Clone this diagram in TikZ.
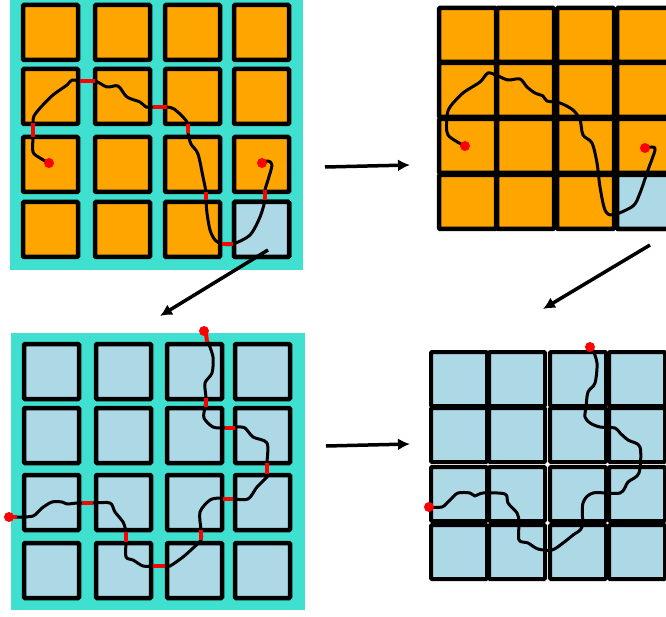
\documentclass[tikz,border=0pt]{standalone}
\usetikzlibrary{arrows.meta}
\definecolor{tileorange}{HTML}{FFA500}
\definecolor{tileblue}{HTML}{ADD8E6}
\definecolor{board}{HTML}{40E0D0}
\begin{document}
\begin{tikzpicture}[x=1pt,y=-1pt,
    tile/.style={draw=black, line width=4.5pt, rounded corners=1pt},
    crack/.style={draw=black, line width=3pt, line join=round, line cap=round},
    cut/.style={draw=red, line width=4pt},
    dot/.style={fill=red},
    move/.style={line width=3.5pt, -{Latex[length=12pt,width=12pt]}}]
  \useasboundingbox (0,0) rectangle (666,617);
  % top left: board with gaps
  \fill[board] (10,0) rectangle (303,270);
  \foreach \x in {23,95,165,234}
    \foreach \y in {5,69,137,202}
      \draw[tile, fill=tileorange] (\x,\y) rectangle ++(55,55);
  \draw[tile, fill=tileblue] (234,202) rectangle ++(55,55);
  \draw[crack] plot[smooth, tension=0.5] coordinates {(49,163) (40,158) (33,152)
    (33,137) (33,123) (34,116) (41,107) (53,95) (67,85) (72,80) (80,81) (95,81)
    (107,87) (118,86) (127,97) (140,102) (146,107) (153,107) (167,107) (174,109)
    (183,117) (188,124) (188,133) (191,144) (198,154) (203,177) (206,192) (206,200)
    (207,213) (210,230) (215,240) (222,244) (233,244) (250,235) (260,217) (265,200)
    (265,190) (268,180) (272,165) (268,161) (262,163)};
  \draw[cut] (33,123) -- (33,137);
  \draw[cut] (80,81) -- (95,81);
  \draw[cut] (153,107) -- (167,107);
  \draw[cut] (188,124) -- (188,133);
  \draw[cut] (206,192) -- (206,200);
  \draw[cut] (222,244) -- (233,244);
  \draw[cut] (265,190) -- (265,200);
  \fill[dot] (49,163) circle (5);
  \fill[dot] (262,163) circle (5);
  % top right: gaps closed
  \foreach \x in {439,497,557,617}
    \foreach \y in {8,63,119,175}
      \draw[tile, fill=tileorange] (\x,\y) rectangle ++(57,54);
  \draw[tile, fill=tileblue] (617,175) rectangle ++(57,54);
  \draw[crack] plot[smooth, tension=0.5] coordinates {(465,146) (448,135) (447,117)
    (450,107) (463,93) (480,82) (488,73) (498,76) (508,80) (520,79) (527,87)
    (535,93) (543,96) (547,101) (560,103) (573,110) (580,120) (583,135) (592,143)
    (597,163) (600,187) (605,210) (613,215) (633,206) (640,193) (648,170)
    (655,150) (652,147) (645,148)};
  \fill[dot] (465,146) circle (5);
  \fill[dot] (645,148) circle (5);
  % bottom left: board with gaps
  \fill[board] (11,333) rectangle (305,610);
  \foreach \x in {24,96,167,235}
    \foreach \y in {344,408,475,543}
      \draw[tile, fill=tileblue] (\x,\y) rectangle ++(55,55);
  \draw[crack] plot[smooth, tension=0.5] coordinates {(17,517) (33,516) (42,508)
    (52,502) (62,502) (67,504) (77,503) (82,503) (93,503) (110,503) (115,512)
    (123,522) (126,532) (126,542) (126,557) (133,560) (143,566) (153,566) (165,566)
    (170,566) (183,557) (192,549) (201,540) (201,530) (200,512) (210,500) (220,498)
    (223,499) (233,499) (248,499) (257,487) (267,477) (267,474) (267,463) (267,443)
    (253,437) (245,428) (237,427) (235,428) (225,428) (213,427) (204,418) (205,407)
    (206,398) (205,383) (212,373) (213,357) (208,342)};
  \draw[cut] (9,517) -- (17,517);
  \draw[cut] (82,503) -- (93,503);
  \draw[cut] (126,532) -- (126,542);
  \draw[cut] (153,566) -- (165,566);
  \draw[cut] (201,530) -- (201,540);
  \draw[cut] (223,499) -- (233,499);
  \draw[cut] (267,463) -- (267,474);
  \draw[cut] (225,428) -- (235,428);
  \draw[cut] (206,398) -- (206,407);
  \draw[cut] (206,333) -- (207,342);
  \fill[dot] (9,517) circle (5);
  \fill[dot] (204,331) circle (5);
  % bottom right: gaps closed
  \foreach \x in {431,489,550,609}
    \foreach \y in {352,408,467,525}
      \draw[tile, line width=4pt, fill=tileblue] (\x,\y) rectangle ++(56,54);
  \draw[crack] plot[smooth, tension=0.5] coordinates {(429,507) (442,507) (450,500)
    (458,493) (470,493) (475,496) (483,493) (505,494) (508,503) (517,513) (519,522)
    (519,540) (528,543) (538,549) (552,550) (563,543) (573,535) (582,527) (583,503)
    (593,493) (620,493) (628,482) (639,473) (640,447) (628,440) (620,433) (615,428)
    (600,427) (590,423) (585,417) (586,407) (588,392) (595,383) (597,363) (592,348)
    (590,347)};
  \fill[dot] (429,507) circle (5);
  \fill[dot] (590,347) circle (5);
  % arrows
  \coordinate (a1) at (325,167);
  \coordinate (b1) at (410,165);
  \coordinate (a2) at (268,250);
  \coordinate (b2) at (160,316);
  \coordinate (a3) at (650,245);
  \coordinate (b3) at (543,309);
  \coordinate (a4) at (326,446);
  \coordinate (b4) at (410,444);
  \draw[move] (a1) -- (b1);
  \draw[move] (a2) -- (b2);
  \draw[move] (a3) -- (b3);
  \draw[move] (a4) -- (b4);
\end{tikzpicture}
\end{document}
